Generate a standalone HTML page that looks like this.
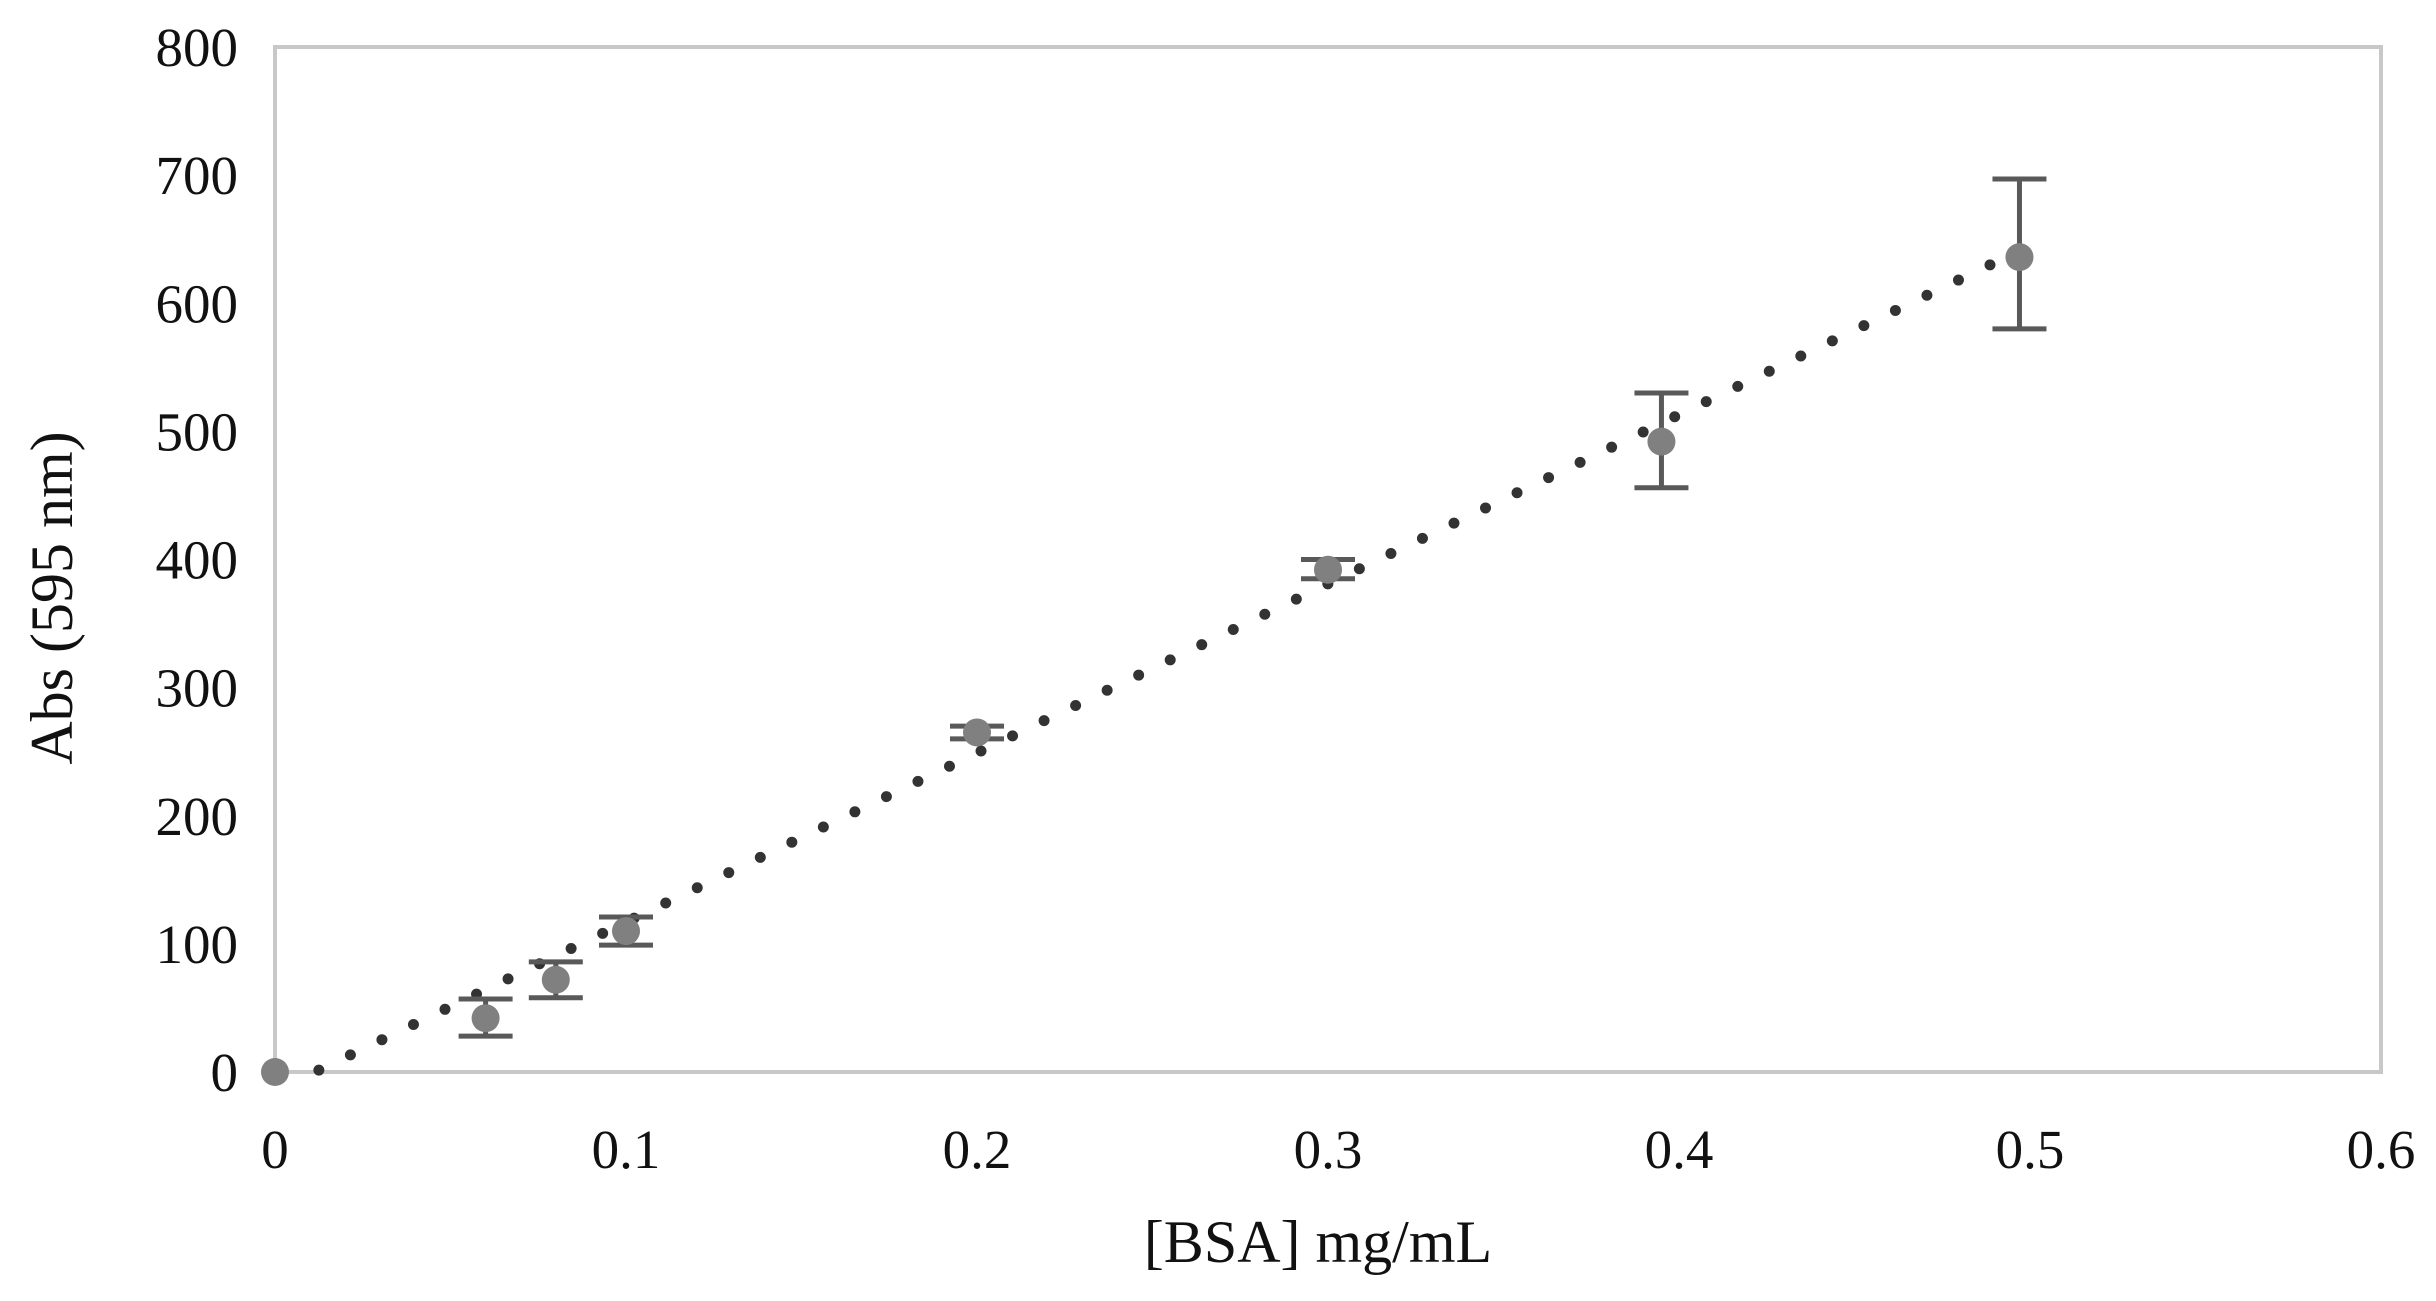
<!DOCTYPE html>
<html><head><meta charset="utf-8"><style>
html,body{margin:0;padding:0;background:#fff;}
svg{display:block;font-family:"Liberation Serif",serif;}
</style></head><body>
<svg id="chart" width="2436" height="1301" viewBox="0 0 2436 1301" xmlns="http://www.w3.org/2000/svg">
<rect x="275" y="47" width="2106" height="1025" fill="#fff" stroke="#c8c8c8" stroke-width="4"/>
<g id="yticks"></g>
<g id="xticks"></g>
<g id="trend"></g>
<g id="series"></g>
<text x="1318" y="1262" font-size="60" text-anchor="middle" fill="#111">[BSA] mg/mL</text>
<text transform="translate(72,598) rotate(-90)" font-size="60" text-anchor="middle" fill="#111">Abs (595 nm)</text>
</svg>
<script>
const xTicks=[0,0.1,0.2,0.3,0.4,0.5,0.6];
const xTickLabels=["0","0.1","0.2","0.3","0.4","0.5","0.6"];
const yTicks=[0,100,200,300,400,500,600,700,800];
const yTickLabels=["0","100","200","300","400","500","600","700","800"];
const conc=[0,0.06,0.08,0.1,0.2,0.3,0.395,0.497];
const absVals=[0,42,72,110,265,392,492,636];
const errLow=[0,28,58,99,260,385,456,580];
const errHigh=[0,57,86,121,270,400,530,697];
const trendX=[0.0125,0.49];
const trendSlope=1320, trendIntercept=-15;
const NS="http://www.w3.org/2000/svg";
const X=v=>275+v/0.6*2106;
const Y=v=>1072-v/800*1025;
function mk(tag,attrs,parent){const e=document.createElementNS(NS,tag);for(const k in attrs)e.setAttribute(k,attrs[k]);parent.appendChild(e);return e;}
const yg=document.getElementById('yticks'),xg=document.getElementById('xticks'),tg=document.getElementById('trend'),sg=document.getElementById('series');
yTicks.forEach((v,i)=>{const t=mk('text',{x:238,y:Y(v)+19,'font-size':55,'text-anchor':'end',fill:'#111'},yg);t.textContent=yTickLabels[i];

});
xTicks.forEach((v,i)=>{const t=mk('text',{x:X(v),y:1168,'font-size':55,'text-anchor':'middle',fill:'#111'},xg);t.textContent=xTickLabels[i];

});
const tl=mk('line',{x1:X(trendX[0]),y1:Y(trendSlope*trendX[0]+trendIntercept),x2:X(trendX[1]),y2:Y(trendSlope*trendX[1]+trendIntercept),stroke:'#333','stroke-width':11,'stroke-linecap':'round','stroke-dasharray':'0 35'},tg);


conc.forEach((c,i)=>{
 if(errHigh[i]>errLow[i]){
  const g=mk('g',{stroke:'#595959','stroke-width':5},sg);
  
  
  mk('line',{x1:X(c),x2:X(c),y1:Y(errLow[i]),y2:Y(errHigh[i])},g);
  mk('line',{x1:X(c)-27,x2:X(c)+27,y1:Y(errLow[i]),y2:Y(errLow[i])},g);
  mk('line',{x1:X(c)-27,x2:X(c)+27,y1:Y(errHigh[i]),y2:Y(errHigh[i])},g);
 }
 const p=mk('circle',{cx:X(c),cy:Y(absVals[i]),r:14,fill:'#808080'},sg);
 
 
});
</script>
</body></html>
